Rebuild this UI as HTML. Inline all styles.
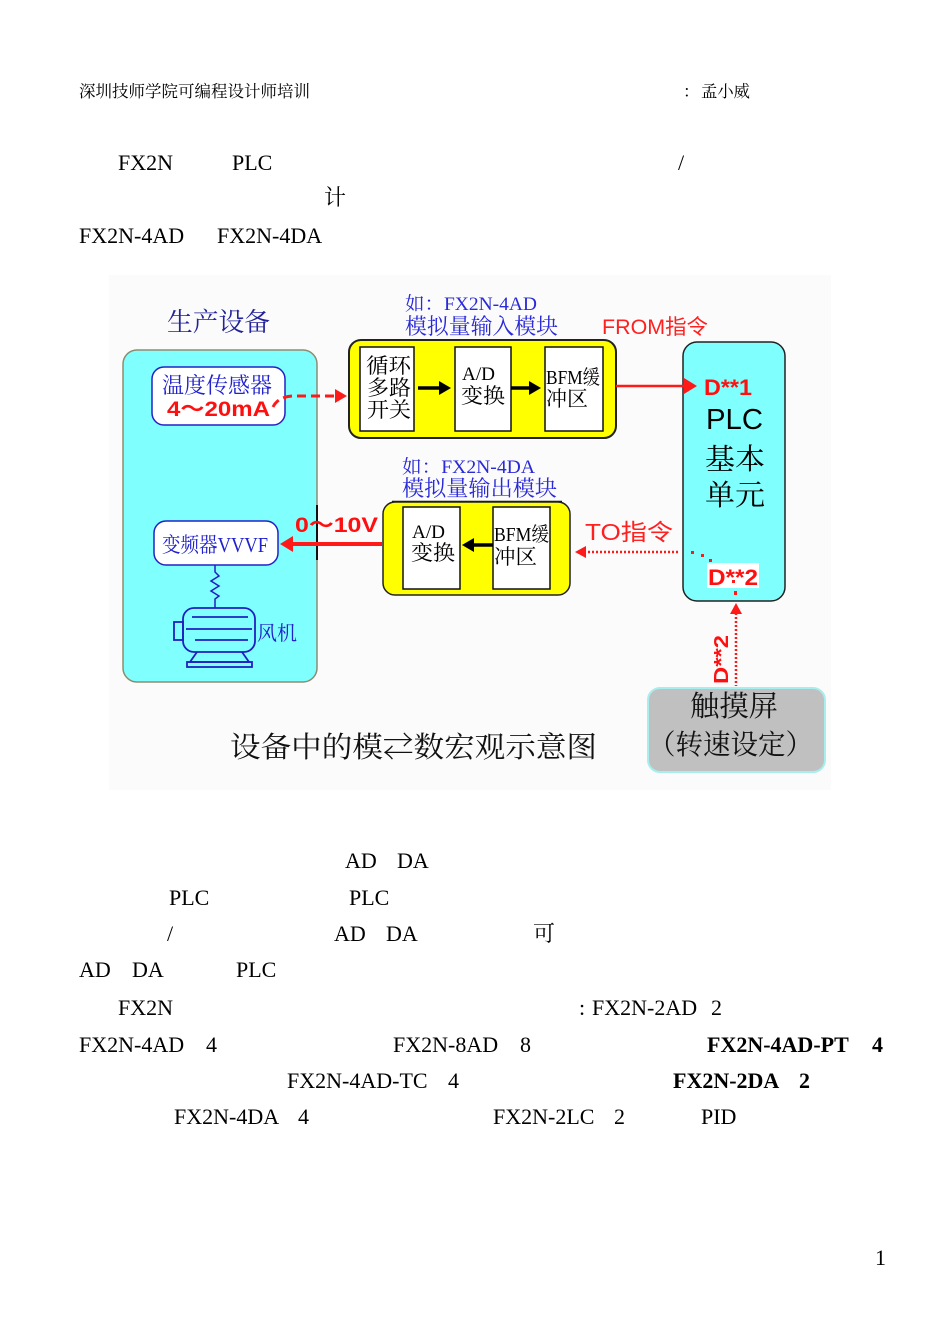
<!DOCTYPE html>
<html>
<head>
<meta charset="utf-8">
<style>
html,body{margin:0;padding:0;background:#fff;}
body{width:950px;height:1343px;overflow:hidden;}
svg{display:block;}
.t{font-family:"Liberation Serif","Noto Serif CJK SC",serif;font-size:22px;fill:#000;}
.b{font-weight:bold;}
.cj{font-family:"Liberation Serif","Noto Serif CJK SC",serif;}
.sa{font-family:"Liberation Sans","Noto Sans CJK SC",sans-serif;}
</style>
</head>
<body>
<svg width="950" height="1343" viewBox="0 0 950 1343" xmlns="http://www.w3.org/2000/svg">
  <!-- header -->
  <text class="cj" x="79" y="97" font-size="16.5" textLength="231" lengthAdjust="spacingAndGlyphs">深圳技师学院可编程设计师培训</text>
  <text class="cj" x="683" y="97" font-size="16.5">：</text>
  <text class="cj" x="701" y="97" font-size="16.5" textLength="49" lengthAdjust="spacingAndGlyphs">孟小威</text>

  <!-- intro text -->
  <text class="t" x="118" y="170">FX2N</text>
  <text class="t" x="232" y="170">PLC</text>
  <text class="t" x="678" y="170">/</text>
  <text class="t cj" x="324" y="205" font-size="21">计</text>
  <text class="t" x="79" y="243">FX2N-4AD</text>
  <text class="t" x="217" y="243">FX2N-4DA</text>

  <!-- diagram background -->
  <rect x="109" y="275" width="722" height="515" fill="#fbfbfb"/>

  <!-- 生产设备 -->
  <text class="cj" x="167" y="331" font-size="26" fill="#22229a" textLength="103" lengthAdjust="spacingAndGlyphs">生产设备</text>

  <!-- cyan equipment box -->
  <rect x="123" y="350" width="194" height="332" rx="14" fill="#80ffff" stroke="#8c8c72" stroke-width="1.5"/>
  <line x1="317" y1="505" x2="317" y2="560" stroke="#111" stroke-width="2"/>

  <!-- sensor box -->
  <rect x="152" y="367" width="133" height="58" rx="12" fill="#fff" stroke="#2222c8" stroke-width="1.5"/>
  <text class="cj" x="162" y="393" font-size="22" fill="#2222cc" textLength="110" lengthAdjust="spacingAndGlyphs">温度传感器</text>
  <text class="sa b" x="167" y="416" font-size="21" fill="#ff1010" textLength="103" lengthAdjust="spacingAndGlyphs">4～20mA</text>

  <!-- dashed arrow sensor -> module -->
  <path d="M273,407 Q278,397 292,396 L336,396" fill="none" stroke="#ff1a1a" stroke-width="3" stroke-dasharray="9,5"/>
  <polygon points="347,396 335,389 335,403" fill="#ff1a1a"/>

  <!-- input module labels -->
  <text class="cj" x="405" y="310" font-size="19" fill="#2a2ad8" textLength="132" lengthAdjust="spacingAndGlyphs">如：FX2N-4AD</text>
  <text class="cj" x="405" y="334" font-size="22" fill="#2a2ad8" textLength="153" lengthAdjust="spacingAndGlyphs">模拟量输入模块</text>

  <!-- yellow input module -->
  <rect x="349" y="340" width="267" height="98" rx="12" fill="#ffff00" stroke="#222" stroke-width="2"/>
  <rect x="360" y="347" width="54" height="84" fill="#fff" stroke="#111" stroke-width="1.5"/>
  <rect x="455" y="347" width="56" height="84" fill="#fff" stroke="#111" stroke-width="1.5"/>
  <rect x="545" y="347" width="58" height="84" fill="#fff" stroke="#111" stroke-width="1.5"/>
  <text class="cj" x="366" y="373" font-size="21" textLength="45" lengthAdjust="spacingAndGlyphs">循环</text>
  <text class="cj" x="367" y="395" font-size="21" textLength="44" lengthAdjust="spacingAndGlyphs">多路</text>
  <text class="cj" x="367" y="417" font-size="21" textLength="44" lengthAdjust="spacingAndGlyphs">开关</text>
  <line x1="418" y1="388" x2="440" y2="388" stroke="#000" stroke-width="3.5"/>
  <polygon points="451,388 439,381 439,395" fill="#000"/>
  <text class="cj" x="462" y="380" font-size="19" textLength="33" lengthAdjust="spacingAndGlyphs">A/D</text>
  <text class="cj" x="461" y="403" font-size="21" textLength="44" lengthAdjust="spacingAndGlyphs">变换</text>
  <line x1="511" y1="388" x2="530" y2="388" stroke="#000" stroke-width="3.5"/>
  <polygon points="541,388 529,381 529,395" fill="#000"/>
  <text class="cj" x="546" y="384" font-size="20" textLength="54" lengthAdjust="spacingAndGlyphs">BFM缓</text>
  <text class="cj" x="546" y="406" font-size="21" textLength="42" lengthAdjust="spacingAndGlyphs">冲区</text>

  <!-- FROM label -->
  <text class="sa" x="602" y="334" font-size="21" fill="#ff2020" textLength="106" lengthAdjust="spacingAndGlyphs">FROM指令</text>

  <!-- PLC box -->
  <rect x="683" y="342" width="102" height="259" rx="14" fill="#80ffff" stroke="#222" stroke-width="1.5"/>
  <line x1="616" y1="386" x2="685" y2="386" stroke="#ff1a1a" stroke-width="2.5"/>
  <polygon points="697,386 684,378 684,394" fill="#ff1a1a"/>
  <text class="sa b" x="704" y="395" font-size="22" fill="#ff1010" textLength="48" lengthAdjust="spacingAndGlyphs">D**1</text>
  <text class="sa" x="706" y="429" font-size="29" fill="#000" textLength="57" lengthAdjust="spacingAndGlyphs">PLC</text>
  <text class="cj" x="705" y="469" font-size="29" fill="#000" textLength="60" lengthAdjust="spacingAndGlyphs">基本</text>
  <text class="cj" x="705" y="505" font-size="29" fill="#000" textLength="60" lengthAdjust="spacingAndGlyphs">单元</text>
  <rect x="707" y="563" width="52" height="25" fill="#fff"/>
  <text class="sa b" x="708" y="585" font-size="22" fill="#ff1010" textLength="50" lengthAdjust="spacingAndGlyphs">D**2</text>

  <!-- output module labels -->
  <text class="cj" x="402" y="473" font-size="19" fill="#2a2ad8" textLength="133" lengthAdjust="spacingAndGlyphs">如：FX2N-4DA</text>
  <text class="cj" x="402" y="496" font-size="22" fill="#2a2ad8" textLength="155" lengthAdjust="spacingAndGlyphs">模拟量输出模块</text>
  <line x1="392" y1="502" x2="562" y2="502" stroke="#111" stroke-width="2.5"/>

  <!-- yellow output module -->
  <rect x="383" y="502" width="187" height="93" rx="12" fill="#ffff00" stroke="#222" stroke-width="1.5"/>
  <rect x="403" y="507" width="57" height="82" fill="#fff" stroke="#111" stroke-width="1.5"/>
  <rect x="493" y="507" width="57" height="82" fill="#fff" stroke="#111" stroke-width="1.5"/>
  <text class="cj" x="412" y="538" font-size="19" textLength="33" lengthAdjust="spacingAndGlyphs">A/D</text>
  <text class="cj" x="411" y="560" font-size="21" textLength="44" lengthAdjust="spacingAndGlyphs">变换</text>
  <text class="cj" x="494" y="541" font-size="20" textLength="55" lengthAdjust="spacingAndGlyphs">BFM缓</text>
  <text class="cj" x="494" y="564" font-size="21" textLength="43" lengthAdjust="spacingAndGlyphs">冲区</text>
  <line x1="493" y1="545" x2="473" y2="545" stroke="#000" stroke-width="3.5"/>
  <polygon points="462,545 474,538 474,552" fill="#000"/>

  <!-- 0~10V -->
  <text class="sa b" x="295" y="532" font-size="21" fill="#ff1010" textLength="83" lengthAdjust="spacingAndGlyphs">0～10V</text>
  <line x1="382" y1="544" x2="290" y2="544" stroke="#ff1a1a" stroke-width="4"/>
  <polygon points="280,544 293,536 293,552" fill="#ff1a1a"/>

  <!-- VVVF box -->
  <rect x="154" y="521" width="124" height="44" rx="12" fill="#fff" stroke="#2222c8" stroke-width="1.5"/>
  <text class="cj" x="162" y="552" font-size="21" fill="#2222cc" textLength="106" lengthAdjust="spacingAndGlyphs">变频器VVVF</text>

  <!-- cable -->
  <path d="M215,565 L215,572 L219,576 L211,581 L219,586 L211,591 L219,596 L215,599 L215,608" fill="none" stroke="#2020c0" stroke-width="1.5"/>

  <!-- motor -->
  <g fill="none" stroke="#2020c0" stroke-width="1.8">
    <rect x="183" y="608" width="72" height="44" rx="11"/>
    <rect x="174" y="622" width="9" height="18"/>
    <line x1="192" y1="617" x2="248" y2="617"/>
    <line x1="186" y1="629" x2="252" y2="629"/>
    <line x1="195" y1="640" x2="248" y2="640"/>
    <path d="M197,652 L190,662 L249,662 L242,652"/>
    <rect x="187" y="662" width="65" height="5"/>
  </g>
  <text class="cj" x="257" y="640" font-size="20" fill="#2222cc" textLength="40" lengthAdjust="spacingAndGlyphs">风机</text>

  <!-- TO -->
  <text class="sa" x="585" y="540" font-size="23" fill="#ff2020" textLength="88" lengthAdjust="spacingAndGlyphs">TO指令</text>
  <line x1="584" y1="552" x2="680" y2="552" stroke="#ff1a1a" stroke-width="2.5" stroke-dasharray="2,2"/>
  <polygon points="575,552 586,546 586,558" fill="#ff1a1a"/>
  <g fill="#ff1a1a">
    <rect x="691" y="551" width="3" height="3"/>
    <rect x="701" y="554" width="3" height="3"/>
    <rect x="709" y="559" width="3" height="3"/>
    <rect x="732" y="580" width="3" height="3"/>
    <rect x="734" y="591" width="3" height="4"/>
  </g>

  <!-- touch screen arrow -->
  <line x1="736" y1="613" x2="736" y2="686" stroke="#ff1a1a" stroke-width="2.5" stroke-dasharray="2,2"/>
  <polygon points="736,603 730,614 742,614" fill="#ff1a1a"/>
  <text class="sa b" transform="translate(728,684) rotate(-90)" font-size="20" fill="#ff1010" textLength="49" lengthAdjust="spacingAndGlyphs">D**2</text>

  <!-- touch screen -->
  <rect x="648" y="688" width="177" height="84" rx="12" fill="#c0c0c0" stroke="#a8eeee" stroke-width="2"/>
  <text class="cj" x="690" y="716" font-size="29" fill="#111" textLength="88" lengthAdjust="spacingAndGlyphs">触摸屏</text>
  <text class="cj" x="648" y="754" font-size="28" fill="#111" textLength="165" lengthAdjust="spacingAndGlyphs">（转速设定）</text>

  <!-- caption -->
  <text class="cj" x="230" y="757" font-size="29" fill="#111" textLength="367" lengthAdjust="spacingAndGlyphs">设备中的模⇄数宏观示意图</text>

  <!-- body text after diagram -->
  <text class="t" x="345" y="868">AD</text>
  <text class="t" x="397" y="868">DA</text>

  <text class="t" x="169" y="905">PLC</text>
  <text class="t" x="349" y="905">PLC</text>

  <text class="t" x="167" y="941">/</text>
  <text class="t" x="334" y="941">AD</text>
  <text class="t" x="386" y="941">DA</text>
  <text class="t cj" x="533" y="941" font-size="20">可</text>

  <text class="t" x="79" y="977">AD</text>
  <text class="t" x="132" y="977">DA</text>
  <text class="t" x="236" y="977">PLC</text>

  <text class="t" x="118" y="1015">FX2N</text>
  <text class="t" x="579" y="1015">:</text>
  <text class="t" x="592" y="1015">FX2N-2AD</text>
  <text class="t" x="711" y="1015">2</text>

  <text class="t" x="79" y="1052">FX2N-4AD</text>
  <text class="t" x="206" y="1052">4</text>
  <text class="t" x="393" y="1052">FX2N-8AD</text>
  <text class="t" x="520" y="1052">8</text>
  <text class="t b" x="707" y="1052">FX2N-4AD-PT</text>
  <text class="t b" x="872" y="1052">4</text>

  <text class="t" x="287" y="1088">FX2N-4AD-TC</text>
  <text class="t" x="448" y="1088">4</text>
  <text class="t b" x="673" y="1088">FX2N-2DA</text>
  <text class="t b" x="799" y="1088">2</text>

  <text class="t" x="174" y="1124">FX2N-4DA</text>
  <text class="t" x="298" y="1124">4</text>
  <text class="t" x="493" y="1124">FX2N-2LC</text>
  <text class="t" x="614" y="1124">2</text>
  <text class="t" x="701" y="1124">PID</text>

  <text class="t" x="875" y="1265" font-size="14">1</text>
</svg>
</body>
</html>
